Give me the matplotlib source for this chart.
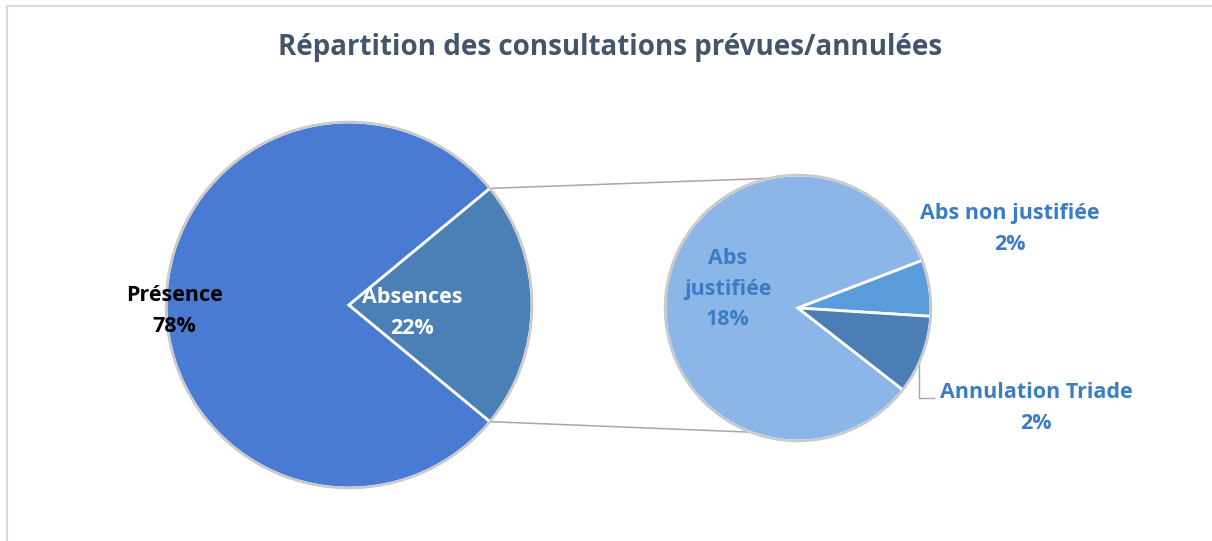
import numpy as np
import matplotlib.pyplot as plt
from matplotlib.patches import Circle

plt.rcParams['font.family'] = ['Open Sans', 'DejaVu Sans']

# main pie
main_labels = ['Présence', 'Absences']
main_values = [78.0, 22.0]
main_colors = ['#4A7BD2', '#4A80B5']

# detail of absences
sub_labels = ['Abs justifiée', 'Abs non justifiée', 'Annulation Triade']
sub_values = [18.4, 1.5, 2.1]
sub_colors = ['#8DB6E8', '#5A9BDA', '#4A7EB4']

title = 'Répartition des consultations prévues/annulées'

W, H = 1212, 541


def main():
    fig = plt.figure(figsize=(W / 100, H / 100), dpi=100)
    ax = fig.add_axes([0, 0, 1, 1])

    # left pie, absences slice centred on the right
    c1 = (349, H - 305)
    r1 = 183
    half = main_values[1] / sum(main_values) * 360 / 2
    ax.pie(main_values, colors=main_colors, startangle=half, center=c1, radius=r1,
           frame=True, wedgeprops=dict(edgecolor='white', linewidth=2))
    ax.add_patch(Circle(c1, r1, fill=False, edgecolor='#C9C9C9', lw=1.8, zorder=3))

    # right pie
    c2 = (798, H - 308)
    r2 = 133
    small = sum(sub_values[1:]) / sum(sub_values) * 360
    ax.pie(sub_values, colors=sub_colors, startangle=-8.5 - small / 2, counterclock=False,
           center=c2, radius=r2, frame=True,
           wedgeprops=dict(edgecolor='white', linewidth=2))
    ax.add_patch(Circle(c2, r2, fill=False, edgecolor='#C9C9C9', lw=1.8, zorder=3))

    # connector lines
    a_top, a_bot = np.radians(half), np.radians(-half)
    b_top, b_bot = np.radians(103), np.radians(-111)
    for a, b in [(a_top, b_top), (a_bot, b_bot)]:
        x0, y0 = c1[0] + r1 * np.cos(a), c1[1] + r1 * np.sin(a)
        x1, y1 = c2[0] + r2 * np.cos(b), c2[1] + r2 * np.sin(b)
        ax.plot([x0, x1], [y0, y1], color='#A6A6A6', lw=1.1, zorder=1)

    # leader line for Annulation Triade
    ax.plot([919, 919, 934], [H - 360, H - 398, H - 398], color='#A6A6A6', lw=1.0)

    fs = 15.5
    ls = 1.62
    tot = sum(main_values)
    ax.text(174, H - 311, '%s\n%d%%' % (main_labels[0], round(main_values[0] / tot * 100)),
            ha='center', va='center', fontsize=fs, fontweight='bold', color='black',
            linespacing=ls)
    ax.text(412, H - 313, '%s\n%d%%' % (main_labels[1], round(main_values[1] / tot * 100)),
            ha='center', va='center', fontsize=fs, fontweight='bold', color='white',
            linespacing=ls)

    blue = '#3B7DC4'
    ax.text(728, H - 289, 'Abs\njustifiée\n%d%%' % round(sub_values[0]),
            ha='center', va='center', fontsize=fs, fontweight='bold', color=blue,
            linespacing=ls)
    ax.text(1010, H - 229, '%s\n%d%%' % (sub_labels[1], round(sub_values[1])),
            ha='center', va='center', fontsize=fs, fontweight='bold', color=blue,
            linespacing=ls)
    ax.text(1036, H - 408, '%s\n%d%%' % (sub_labels[2], round(sub_values[2])),
            ha='center', va='center', fontsize=fs, fontweight='bold', color=blue,
            linespacing=ls)

    ax.text(610, H - 47, title, ha='center', va='center', fontsize=20,
            fontweight='bold', color='#44546A')

    # chart border (top and left visible)
    ax.plot([7, W], [H - 6, H - 6], color='#D9D9D9', lw=1.6)
    ax.plot([7, 7], [H - 6, 0], color='#D9D9D9', lw=1.6)

    ax.set_xlim(0, W)
    ax.set_ylim(0, H)
    ax.set_aspect('equal')
    ax.axis('off')
    fig.savefig('out.png', dpi=100, facecolor='white')


if __name__ == "__main__":
    main()
